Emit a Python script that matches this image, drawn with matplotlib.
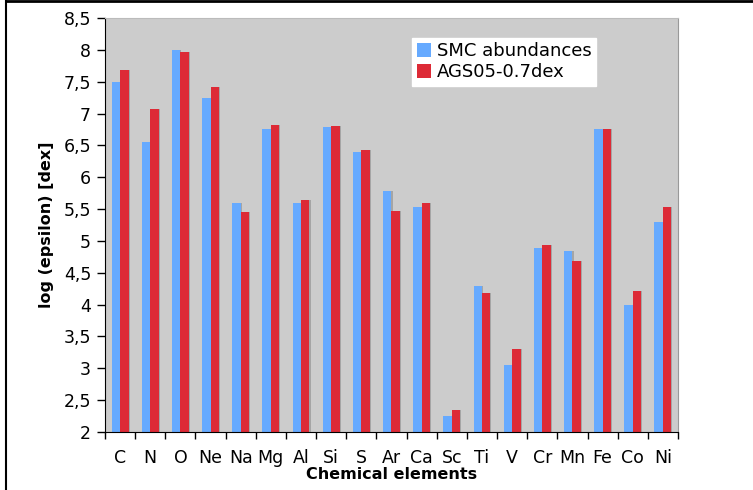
import numpy as np
import matplotlib
matplotlib.use("Agg")
import matplotlib.pyplot as plt
from matplotlib.ticker import FuncFormatter, FixedLocator, NullFormatter
from matplotlib.lines import Line2D

elements = ["C", "N", "O", "Ne", "Na", "Mg", "Al", "Si", "S", "Ar",
            "Ca", "Sc", "Ti", "V", "Cr", "Mn", "Fe", "Co", "Ni"]
smc = [7.50, 6.55, 8.00, 7.25, 5.60, 6.75, 5.60, 6.79, 6.39, 5.79,
       5.54, 2.25, 4.30, 3.05, 4.89, 4.84, 6.75, 4.00, 5.29]
ags = [7.68, 7.07, 7.97, 7.41, 5.46, 6.82, 5.65, 6.80, 6.43, 5.47,
       5.60, 2.35, 4.19, 3.30, 4.93, 4.68, 6.75, 4.22, 5.53]

blue = "#66aaff"
red = "#dd2a36"

plt.rcParams["font.family"] = ["DejaVu Sans"]

fig = plt.figure(figsize=(7.53, 4.90), dpi=100)
ax = fig.add_axes([105 / 753, 1 - 432 / 490, 573 / 753, 414 / 490])
ax.set_facecolor("#cccccc")

x = np.arange(len(elements))
w = 0.28
base = 2.0
smc_h = [v - base for v in smc]
ags_h = [v - base for v in ags]
# faint shadow to the right of each bar
ax.bar(x - w / 2 + 0.035, smc_h, w, bottom=base, color="#a5a5a5", zorder=1)
ax.bar(x + w / 2 + 0.035, ags_h, w, bottom=base, color="#a5a5a5", zorder=1)
ax.bar(x - w / 2, smc_h, w, bottom=base, color=blue, label="SMC abundances", zorder=2)
ax.bar(x + w / 2, ags_h, w, bottom=base, color=red, label="AGS05-0.7dex", zorder=2)

ax.set_xlim(-0.5, len(elements) - 0.5)
ax.set_ylim(2, 8.5)
ax.set_yticks(np.arange(2, 8.51, 0.5))
ax.yaxis.set_major_formatter(FuncFormatter(lambda v, p: f"{v:g}".replace(".", ",")))

ax.xaxis.set_major_locator(FixedLocator(np.arange(-0.5, len(elements), 1.0)))
ax.xaxis.set_major_formatter(NullFormatter())
ax.xaxis.set_minor_locator(FixedLocator(x))
ax.set_xticklabels(elements, minor=True)
ax.tick_params(axis="x", which="minor", length=0, pad=12.5, labelsize=12.5)
ax.tick_params(axis="x", which="major", direction="out", length=5, width=1)
ax.tick_params(axis="y", direction="out", length=6, width=1, labelsize=12.5, pad=4)

ax.spines["right"].set_color("#999999")
ax.spines["top"].set_color("#bbbbbb")
ax.spines["left"].set_color("black")
ax.spines["bottom"].set_color("black")

ax.set_xlabel("Chemical elements", fontsize=11.5, fontweight="bold", labelpad=0)
ax.set_ylabel("log (epsilon) [dex]", fontsize=11.5, fontweight="bold", labelpad=7)

leg = ax.legend(loc="upper left", bbox_to_anchor=(0.536, 0.952), fontsize=13,
                frameon=True, fancybox=False, handlelength=0.8, handleheight=0.8,
                handletextpad=0.3, borderpad=0.25, labelspacing=0.15,
                borderaxespad=0)
leg.get_frame().set_facecolor("white")
leg.get_frame().set_edgecolor("white")
leg.get_frame().set_alpha(1)

# outer frame lines of the original image
fig.add_artist(Line2D([6.5 / 753, 6.5 / 753], [0, 1], color="black", lw=1.5))
fig.add_artist(Line2D([6.5 / 753, 1], [1 - 1 / 490, 1 - 1 / 490], color="black", lw=2))

fig.savefig("out.png", dpi=100)
